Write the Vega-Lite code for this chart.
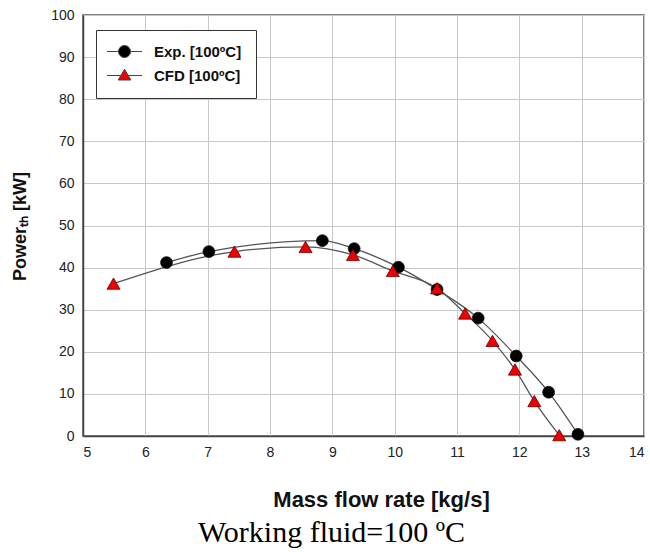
{
  "$schema": "https://vega.github.io/schema/vega-lite/v6.json",
  "autosize": {"type": "none"},
  "width": 561,
  "height": 421,
  "padding": {"left": 83, "top": 15, "right": 6, "bottom": 116},
  "background": "white",
  "title": {
    "text": "Working fluid=100 ºC",
    "orient": "bottom",
    "anchor": "middle",
    "frame": "group",
    "font": "Liberation Serif",
    "fontSize": 30,
    "fontWeight": "normal",
    "color": "#000",
    "offset": 8,
    "dx": -32
  },
  "data": {
    "values": [
      {"series": "Exp. [100ºC]", "x": 6.34, "y": 41.2},
      {"series": "Exp. [100ºC]", "x": 7.02, "y": 43.8},
      {"series": "Exp. [100ºC]", "x": 8.84, "y": 46.4},
      {"series": "Exp. [100ºC]", "x": 9.35, "y": 44.5},
      {"series": "Exp. [100ºC]", "x": 10.06, "y": 40.1},
      {"series": "Exp. [100ºC]", "x": 10.68, "y": 34.8},
      {"series": "Exp. [100ºC]", "x": 11.34, "y": 28.0},
      {"series": "Exp. [100ºC]", "x": 11.95, "y": 19.0},
      {"series": "Exp. [100ºC]", "x": 12.47, "y": 10.4},
      {"series": "Exp. [100ºC]", "x": 12.94, "y": 0.4},
      {"series": "CFD [100ºC]", "x": 5.49, "y": 36.2},
      {"series": "CFD [100ºC]", "x": 7.43, "y": 43.8},
      {"series": "CFD [100ºC]", "x": 8.57, "y": 44.9},
      {"series": "CFD [100ºC]", "x": 9.33, "y": 43.0},
      {"series": "CFD [100ºC]", "x": 9.97, "y": 39.2},
      {"series": "CFD [100ºC]", "x": 10.68, "y": 35.1},
      {"series": "CFD [100ºC]", "x": 11.13, "y": 29.1},
      {"series": "CFD [100ºC]", "x": 11.57, "y": 22.6},
      {"series": "CFD [100ºC]", "x": 11.93, "y": 15.8},
      {"series": "CFD [100ºC]", "x": 12.24, "y": 8.3},
      {"series": "CFD [100ºC]", "x": 12.64, "y": 0.2}
    ]
  },
  "encoding": {
    "x": {
      "field": "x", "type": "quantitative",
      "scale": {"domain": [5, 14], "nice": false, "zero": false},
      "axis": {
        "title": "Mass flow rate [kg/s]",
        "values": [5, 6, 7, 8, 9, 10, 11, 12, 13, 14],
        "titleX": 298,
        "titleY": 70,
        "titleBaseline": "alphabetic",
        "titleFontSize": 22
      }
    },
    "y": {
      "field": "y", "type": "quantitative",
      "scale": {"domain": [0, 100], "nice": false},
      "axis": {
        "title": "Powerₜₕ [kW]",
        "values": [0, 10, 20, 30, 40, 50, 60, 70, 80, 90, 100],
        "titleX": -58,
        "titleY": 211,
        "titleBaseline": "alphabetic",
        "titleFontSize": 18
      }
    }
  },
  "layer": [
    {
      "mark": {"type": "line", "color": "#555", "strokeWidth": 1.3, "interpolate": "monotone"},
      "encoding": {"detail": {"field": "series"}}
    },
    {
      "transform": [{"filter": "datum.x < 0"}],
      "mark": {"type": "point", "filled": true, "opacity": 1, "size": 144, "stroke": "#444", "strokeWidth": 1},
      "encoding": {
        "fill": {
          "field": "series", "type": "nominal",
          "scale": {"domain": ["Exp. [100ºC]", "CFD [100ºC]"], "range": ["#000000", "#ee0000"]},
          "legend": {
            "orient": "none",
            "legendX": 13,
            "legendY": 15,
            "title": null,
            "fillColor": "white",
            "strokeColor": "#333",
            "padding": 14,
            "symbolSize": 144,
            "symbolOpacity": 1,
            "symbolStrokeColor": "#444",
            "symbolStrokeWidth": 1,
            "labelFont": "Liberation Sans",
            "labelFontSize": 15,
            "labelFontWeight": "bold",
            "labelColor": "#111",
            "labelOffset": 29,
            "rowPadding": 7
          }
        },
        "shape": {
          "field": "series", "type": "nominal",
          "scale": {
            "domain": ["Exp. [100ºC]", "CFD [100ºC]"],
            "range": [
              "M-1.75,0H0.17M2.17,0H4.09M0.17,0A1,1 0 1,0 2.17,0A1,1 0 1,0 0.17,0Z",
              "M-1.75,0H0.56M1.78,0H4.09M0.12,0.75L1.17,-1.05L2.22,0.75Z"
            ]
          }
        }
      }
    },
    {
      "transform": [{"filter": "datum.series === 'Exp. [100ºC]'"}],
      "mark": {"type": "point", "shape": "circle", "filled": true, "opacity": 1, "fill": "#000000", "stroke": "#111111", "strokeWidth": 0.8, "size": 140}
    },
    {
      "transform": [{"filter": "datum.series === 'CFD [100ºC]'"}],
      "mark": {"type": "point", "shape": "triangle-up", "filled": true, "opacity": 1, "fill": "#ee0000", "stroke": "#660000", "strokeWidth": 0.8, "size": 170}
    }
  ],
  "config": {
    "view": {"stroke": "#555", "strokeWidth": 1.5},
    "axis": {
      "labelFont": "Liberation Sans",
      "labelFontSize": 14,
      "labelColor": "#222",
      "labelPadding": 9,
      "ticks": false,
      "grid": true,
      "gridColor": "#c8c8c8",
      "gridWidth": 1,
      "domainColor": "#444",
      "domainWidth": 1.5,
      "titleFont": "Liberation Sans",
      "titleFontWeight": "bold",
      "titleColor": "#111"
    }
  }
}
